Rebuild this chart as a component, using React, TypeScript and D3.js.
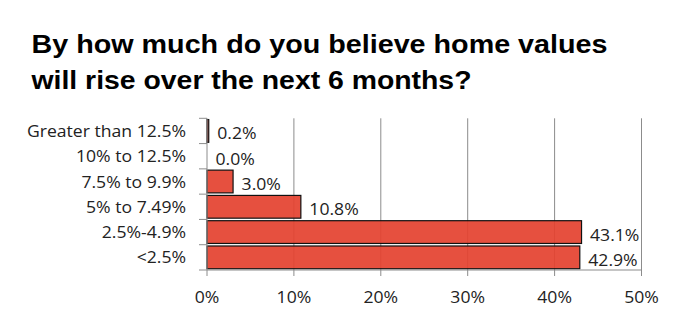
import React from "react";
import * as d3 from "d3";

const categories = ["Greater than 12.5%", "10% to 12.5%", "7.5% to 9.9%", "5% to 7.49%", "2.5%-4.9%", "<2.5%"];
const values = [0.2, 0.0, 3.0, 10.8, 43.1, 42.9];
const xTicks = [0, 10, 20, 30, 40, 50];
const titleLines = ["By how much do you believe home values", "will rise over the next 6 months?"];
const titleWidths = [576, 440];

const W = 680, H = 315;
const left = 207, right = 641.5, top = 118.3, bottom = 270;
const SX = 1.08;

export default function App() {
  const x = d3.scaleLinear().domain([0, 50]).range([left, right]);
  const y = d3.scaleBand<string>().domain(categories).range([top, bottom]).paddingInner(0.1).paddingOuter(0.05);
  const yb = d3.scaleBand<string>().domain(categories).range([top, bottom]);
  const boundaries = categories.map((c) => yb(c)!).concat([bottom]);
  const labelFont = "'Open Sans', sans-serif";
  const fs = 16.3;
  return (
    <svg width={W} height={H} style={{ position: "absolute", left: 0, top: 0, background: "#fff" }}>
      {titleLines.map((t, i) => (
        <text key={i} x={31.5} y={52.5 + i * 36} textLength={titleWidths[i]} lengthAdjust="spacingAndGlyphs"
          fontFamily="'Liberation Sans', Arial, sans-serif" fontWeight="bold" fontSize={25.5} fill="#000">
          {t}
        </text>
      ))}
      {xTicks.filter((t) => t > 0).map((t) => (
        <line key={t} x1={x(t)} x2={x(t)} y1={top} y2={bottom} stroke="#8c8c8c" strokeWidth={1} />
      ))}
      {categories.map((c, i) => (
        <rect key={c} x={x(0)} y={y(c)!} width={x(values[i]) - x(0)} height={y.bandwidth()}
          fill="#e4412f" fillOpacity={0.92} stroke="#111" strokeWidth={1.2} />
      ))}
      <line x1={left} x2={left} y1={top} y2={bottom} stroke="#8c8c8c" />
      {boundaries.map((b, i) => (
        <line key={i} x1={left - 8} x2={left} y1={b} y2={b} stroke="#8c8c8c" />
      ))}
      <line x1={left} x2={right} y1={bottom} y2={bottom} stroke="#8c8c8c" />
      {xTicks.map((t) => (
        <g key={t}>
          <line x1={x(t)} x2={x(t)} y1={bottom} y2={bottom + 6} stroke="#8c8c8c" />
          <text transform={`translate(${x(t)},303.3) scale(${SX},1)`} textAnchor="middle" fontFamily={labelFont} fontSize={fs} fill="#222">{t}%</text>
        </g>
      ))}
      {categories.map((c, i) => {
        const cy = yb(c)! + yb.bandwidth() / 2;
        return (
          <g key={c}>
            <text transform={`translate(186,${cy + 6}) scale(${SX},1)`} textAnchor="end" fontFamily={labelFont} fontSize={fs} fill="#222">{c}</text>
            <text transform={`translate(${x(values[i]) + 8.5},${cy + 8.5}) scale(${SX},1)`} fontFamily={labelFont} fontSize={fs} fill="#222">{values[i].toFixed(1)}%</text>
          </g>
        );
      })}
    </svg>
  );
}
